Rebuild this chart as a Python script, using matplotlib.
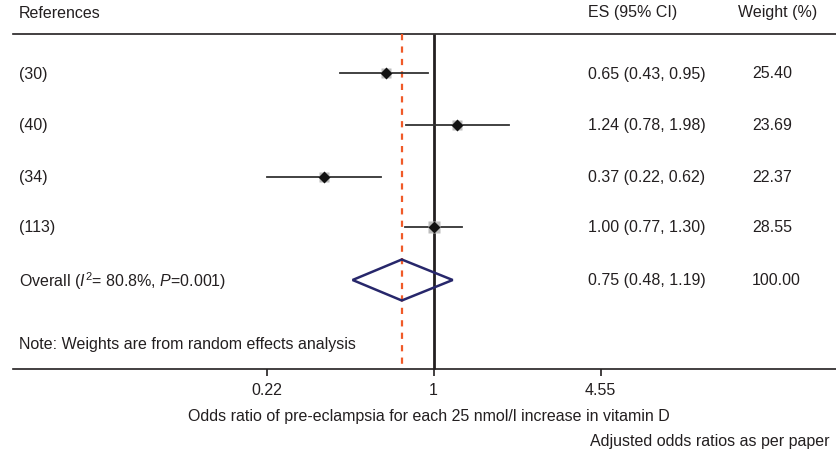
import matplotlib

matplotlib.use("Agg")
import matplotlib.pyplot as plt
import numpy as np

refs = ["(30)", "(40)", "(34)", "(113)"]
es = [0.65, 1.24, 0.37, 1.00]
lo = [0.43, 0.78, 0.22, 0.77]
hi = [0.95, 1.98, 0.62, 1.30]
weights = [25.40, 23.69, 22.37, 28.55]

overall_es = 0.75
overall_lo = 0.48
overall_hi = 1.19
overall_weight = 100.00
overall_label = r"Overall ($I^{2}$= 80.8%, $P$=0.001)"

tick_vals = [0.22, 1, 4.55]
tick_labels = ["0.22", "1", "4.55"]

plt.rcParams.update(
    {
        "font.family": ["Liberation Sans", "DejaVu Sans"],
        "mathtext.fontset": "custom",
        "mathtext.rm": "Liberation Sans",
        "mathtext.it": "Liberation Sans:italic",
        "text.color": "#231f20",
    }
)
INK = "#231f20"
FS = 11.5

W, H = 836, 456
fig = plt.figure(figsize=(W / 100, H / 100), dpi=100)
ax = fig.add_axes([0, 0, 1, 1])
ax.set_xscale("log")
# log scale anchored so that 0.22 -> 266 px, 4.55 -> 600 px
k = (np.log(4.55) - np.log(0.22)) / (600 - 266)
x_one = 433.5
ax.set_xlim(np.exp(-x_one * k), np.exp((W - x_one) * k))
ax.set_ylim(H, 0)
ax.axis("off")

# layout (pixel rows)
y_head = 13
y_rows = [74, 126, 178, 228]
y_over = 281
y_note = 345
y_top = 34.5
y_axis = 370
x_left = 13 / W

ax.axhline(y_top, xmin=x_left, xmax=1, color=INK, lw=1.2)
ax.axhline(y_axis, xmin=x_left, xmax=1, color=INK, lw=1.2)

# null line and overall estimate line
ax.vlines(1, y_top, y_axis, color=INK, lw=2)
ax.vlines(overall_es, y_top, y_axis, color="#f05a28", lw=1.6,
          linestyles=(0, (2.8, 2.8)))

# study rows
for y, e, l, h, w in zip(y_rows, es, lo, hi, weights):
    ax.plot([l, h], [y, y], color="#333333", lw=1.3, zorder=3)
    ax.plot(e, y, marker="s", ms=1.55 * np.sqrt(w), color="#bdbdbd",
            mec="none", zorder=4)
    ax.plot(e, y, marker="D", ms=6, color="#111111", mec="none", zorder=5)

# overall diamond
dh = 20.5
ax.fill(
    [overall_lo, overall_es, overall_hi, overall_es],
    [y_over, y_over - dh, y_over, y_over + dh],
    facecolor="none", edgecolor="#27276b", lw=1.8, zorder=5,
)

# ticks
for v, lab in zip(tick_vals, tick_labels):
    ax.vlines(v, y_axis, y_axis + 7, color=INK, lw=1.2)
    ax.text(v, 391, lab, ha="center", va="center", fontsize=FS)

# text columns
tx = ax.get_yaxis_transform()  # x in axes fraction, y in data


def col(px):
    return px / W


ax.text(col(19), y_head, "References", ha="left", va="center", fontsize=FS,
        transform=tx)
ax.text(col(588), y_head, "ES (95% CI)", ha="left", va="center", fontsize=FS,
        transform=tx)
ax.text(col(738), y_head, "Weight (%)", ha="left", va="center", fontsize=FS,
        transform=tx)

for y, r, e, l, h, w in zip(y_rows, refs, es, lo, hi, weights):
    ax.text(col(19), y, r, ha="left", va="center", fontsize=FS, transform=tx)
    ax.text(col(588), y, f"{e:.2f} ({l:.2f}, {h:.2f})", ha="left",
            va="center", fontsize=FS, transform=tx)
    ax.text(col(752), y, f"{w:.2f}", ha="left", va="center", fontsize=FS,
            transform=tx)

ax.text(col(19), y_over, overall_label, ha="left", va="center", fontsize=FS,
        transform=tx)
ax.text(col(588), y_over,
        f"{overall_es:.2f} ({overall_lo:.2f}, {overall_hi:.2f})",
        ha="left", va="center", fontsize=FS, transform=tx)
ax.text(col(752), y_over, f"{overall_weight:.2f}", ha="left", va="center",
        fontsize=FS, transform=tx)

ax.text(col(19), y_note, "Note: Weights are from random effects analysis",
        ha="left", va="center", fontsize=FS, transform=tx)

ax.text(col(429), 417,
        "Odds ratio of pre-eclampsia for each 25 nmol/l increase in vitamin D",
        ha="center", va="center", fontsize=FS, transform=tx)
ax.text(col(830), 442, "Adjusted odds ratios as per paper", ha="right",
        va="center", fontsize=FS, transform=tx)

fig.savefig("out.png", dpi=100)
